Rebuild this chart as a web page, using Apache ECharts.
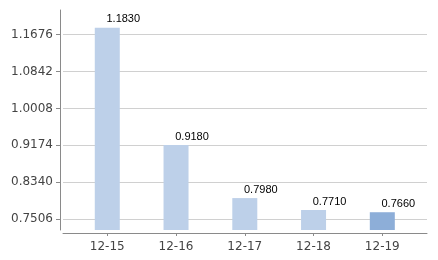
<!DOCTYPE html>
<html><head><meta charset="utf-8">
<script src="https://cdn.jsdelivr.net/npm/echarts@6/dist/echarts.min.js"></script>
<style>html,body{margin:0;padding:0;background:#fff}#c{width:438px;height:260px}</style>
</head><body><div id="c"></div>
<script>
const categories = ['12-15','12-16','12-17','12-18','12-19'];
const values = [1.1830, 0.9180, 0.7980, 0.7710, 0.7660];
const yTicks = [0.7506, 0.8340, 0.9174, 1.0008, 1.0842, 1.1676];
const highlightIndex = 4;

const chart = echarts.init(document.getElementById('c'), null, {renderer:'canvas'});
chart.setOption({
  animation:false,
  grid:{left:63, right:11, top:10, bottom:30},
  xAxis:{
    type:'value', min:-0.644, max:4.65, offset:3,
    axisLine:{show:true, onZero:false, lineStyle:{color:'#8a8a8a', width:1}},
    axisTick:{show:true, length:3, customValues:categories.map((c,i)=>i), lineStyle:{color:'#8a8a8a'}},
    axisLabel:{customValues:categories.map((c,i)=>i), formatter:v=>categories[Math.round(v)], color:'#444', fontFamily:'DejaVu Sans', fontSize:12, margin:8},
    splitLine:{show:false}
  },
  yAxis:{
    type:'value', min:0.7258, max:1.2234, offset:3,
    axisLine:{show:true, onZero:false, lineStyle:{color:'#8a8a8a', width:1}},
    axisTick:{show:true, length:4, customValues:yTicks, lineStyle:{color:'#8a8a8a'}},
    axisLabel:{customValues:yTicks, formatter:v=>v.toFixed(4), color:'#444', fontFamily:'DejaVu Sans', fontSize:12, margin:7},
    splitLine:{show:true, lineStyle:{color:'#d0d0d0', width:1}}
  },
  series:[{
    type:'bar', barWidth:25,
    data: values.map((v,i)=>({value:[i,v], itemStyle:{color: i===highlightIndex ? '#8daed8' : '#bdd0e9'}})),
    label:{show:true, position:'top', distance:3, offset:[16,0], color:'#000', fontFamily:'Liberation Sans', fontSize:11,
      formatter:p=>p.value[1].toFixed(4)}
  }]
});
</script></body></html>
